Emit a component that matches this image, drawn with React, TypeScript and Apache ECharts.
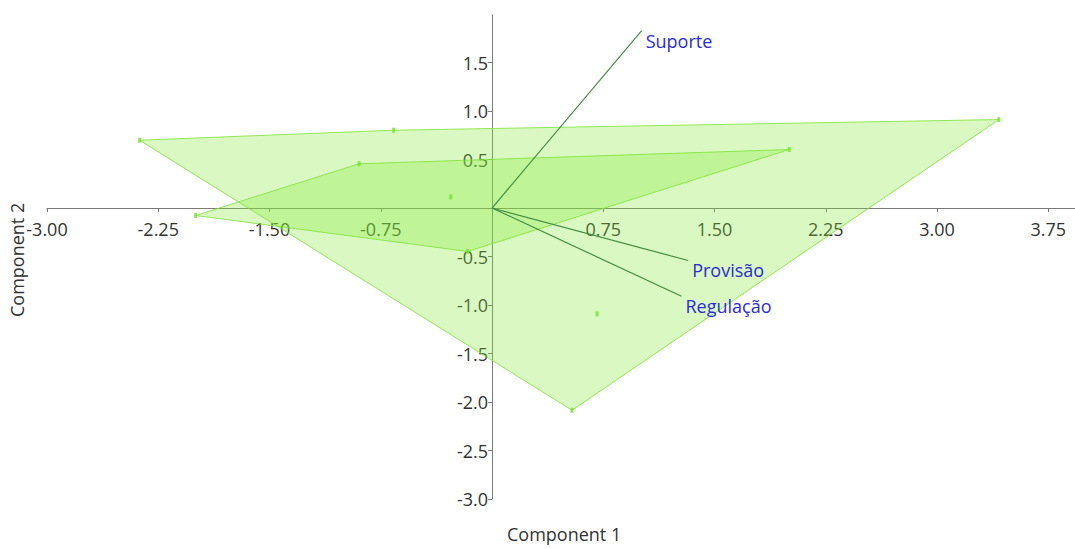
import React, { useEffect, useRef } from "react";
import * as echarts from "echarts";

// Sample scores on the first two components, one list per group
const groupAx = [-2.376, -0.663, 3.417, 0.539, 0.708];
const groupAy = [0.699, 0.802, 0.912, -2.085, -1.091];
const groupBx = [-1.998, -0.897, 2.003, -0.164, -0.278];
const groupBy = [-0.077, 0.456, 0.603, -0.448, 0.115];

// Variable loadings (biplot vectors)
const loadingNames = ["Suporte", "Provisão", "Regulação"];
const loadingX = [1.009, 1.322, 1.277];
const loadingY = [1.83, -0.541, -0.909];

const xMin = -3;
const xMax = 3.93;
const xStep = 0.75;
const yMin = -3;
const yMax = 1.99;
const yStep = 0.5;

const FONT = "'Open Sans', 'Noto Sans', sans-serif";

const GRID = { left: 47, right: 0, top: 15, bottom: 50 };
const W = 1075;
const H = 549;

type Pt = [number, number];

function convexHull(pts: Pt[]): Pt[] {
  const p = pts.slice().sort((a, b) => a[0] - b[0] || a[1] - b[1]);
  const cross = (o: Pt, a: Pt, b: Pt) =>
    (a[0] - o[0]) * (b[1] - o[1]) - (a[1] - o[1]) * (b[0] - o[0]);
  const lower: Pt[] = [];
  for (const q of p) {
    while (lower.length >= 2 && cross(lower[lower.length - 2], lower[lower.length - 1], q) <= 0) lower.pop();
    lower.push(q);
  }
  const upper: Pt[] = [];
  for (let i = p.length - 1; i >= 0; i--) {
    const q = p[i];
    while (upper.length >= 2 && cross(upper[upper.length - 2], upper[upper.length - 1], q) <= 0) upper.pop();
    upper.push(q);
  }
  upper.pop();
  lower.pop();
  return lower.concat(upper);
}

const zip = (xs: number[], ys: number[]): Pt[] => xs.map((x, i) => [x, ys[i]]);

export default function App() {
  const ref = useRef<HTMLDivElement>(null);

  useEffect(() => {
    if (!ref.current) return;
    const chart = echarts.init(ref.current, undefined, { renderer: "svg" });

    const groups = [zip(groupAx, groupAy), zip(groupBx, groupBy)];
    const hulls = groups.map(convexHull);
    const allPoints = groups.flat();
    const loadings = loadingNames.map((n, i) => [loadingX[i], loadingY[i], n]);

    // shift both axes so they cross at the origin, labels included
    const gridW = W - GRID.left - GRID.right;
    const gridH = H - GRID.top - GRID.bottom;
    const yAxisOffset = -((0 - xMin) / (xMax - xMin)) * gridW;
    const xAxisOffset = -((0 - yMin) / (yMax - yMin)) * gridH;

    const hullSeries = hulls.map((hull) => ({
      type: "custom",
      coordinateSystem: "cartesian2d",
      silent: true,
      z: 1,
      data: [0],
      renderItem: (_params: any, api: any) => ({
        type: "polygon",
        shape: { points: hull.map((p) => api.coord(p)) },
        style: {
          fill: "rgba(134,234,52,0.3)",
          stroke: "rgba(130,228,60,0.85)",
          lineWidth: 1,
        },
      }),
    }));

    const option: any = {
      animation: false,
      backgroundColor: "#ffffff",
      grid: { ...GRID, containLabel: false },
      xAxis: {
        type: "value",
        position: "bottom",
        offset: xAxisOffset,
        min: xMin,
        max: xMax,
        interval: xStep,
        axisLine: { onZero: false, lineStyle: { color: "#7a7a7a", width: 1 } },
        axisTick: { show: true, length: 4, inside: false, lineStyle: { color: "#7a7a7a" } },
        splitLine: { show: false },
        axisLabel: {
          showMaxLabel: false,
          color: "#333333",
          fontSize: 18,
          fontFamily: FONT,
          margin: 12,
          formatter: (v: number) => (Math.abs(v) < 1e-9 ? "" : v.toFixed(2)),
        },
      },
      yAxis: {
        type: "value",
        position: "left",
        offset: yAxisOffset,
        min: yMin,
        max: yMax,
        interval: yStep,
        axisLine: { onZero: false, lineStyle: { color: "#7a7a7a", width: 1 } },
        axisTick: { show: true, length: 4, lineStyle: { color: "#7a7a7a" } },
        splitLine: { show: false },
        axisLabel: {
          showMaxLabel: false,
          color: "#333333",
          fontSize: 18,
          fontFamily: FONT,
          margin: 4,
          formatter: (v: number) => (Math.abs(v) < 1e-9 ? "" : v.toFixed(1)),
        },
      },
      graphic: [
        {
          type: "text",
          left: 507,
          top: 525,
          style: { text: "Component 1", fontSize: 18, fontFamily: FONT, fill: "#333333" },
        },
        {
          type: "text",
          x: 8,
          y: 317,
          rotation: Math.PI / 2,
          style: { text: "Component 2", fontSize: 18, fontFamily: FONT, fill: "#333333" },
        },
      ],
      series: [
        ...hullSeries,
        {
          type: "custom",
          coordinateSystem: "cartesian2d",
          silent: true,
          z: 3,
          data: loadings,
          renderItem: (params: any, api: any) => {
            const o = api.coord([0, 0]);
            const e = api.coord([api.value(0), api.value(1)]);
            const name = loadings[params.dataIndex][2] as string;
            return {
              type: "group",
              children: [
                {
                  type: "line",
                  shape: { x1: o[0], y1: o[1], x2: e[0], y2: e[1] },
                  style: { stroke: "#438d43", lineWidth: 1.2 },
                },
                {
                  type: "text",
                  x: e[0] + 4,
                  y: e[1] + 1,
                  style: {
                    text: name,
                    fill: "#2b2bdc",
                    fontSize: 18,
                    fontFamily: FONT,
                    align: "left",
                    verticalAlign: "top",
                  },
                },
              ],
            };
          },
        },
        {
          type: "scatter",
          z: 4,
          silent: true,
          symbol: "rect",
          symbolSize: [3, 5],
          itemStyle: { color: "#72e22a" },
          data: allPoints,
        },
      ],
    };

    chart.setOption(option);
    return () => chart.dispose();
  }, []);

  return (
    <div
      ref={ref}
      style={{ position: "fixed", left: 0, top: 0, width: W, height: H, background: "#fff" }}
    />
  );
}
